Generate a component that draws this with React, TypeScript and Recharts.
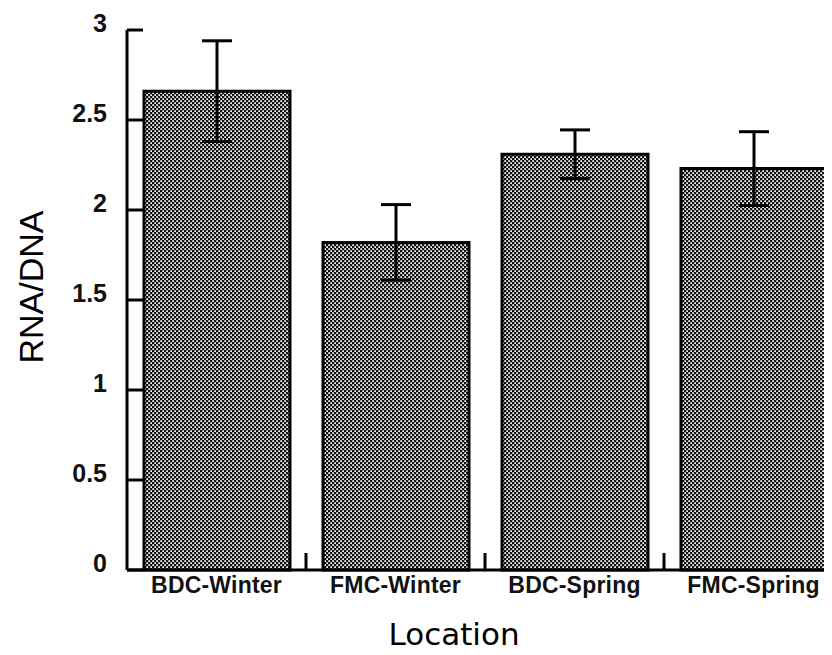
import React from "react";
import { BarChart, Bar, XAxis, YAxis, ErrorBar, Label } from "recharts";

const categories = ["BDC-Winter", "FMC-Winter", "BDC-Spring", "FMC-Spring"];
const means = [2.66, 1.82, 2.31, 2.23];
const errors = [0.28, 0.21, 0.135, 0.205];
const yTicks = [0, 0.5, 1, 1.5, 2, 2.5, 3];

const data = categories.map((c, i) => ({ name: c, value: means[i], err: errors[i] }));

const CHART_W = 850;
const CHART_H = 647;
const MARGIN = { top: 22, right: 15, bottom: 55, left: 9 };
const Y_W = 110;
const X_H = 30;
const PLOT_W = CHART_W - MARGIN.left - MARGIN.right - Y_W;
const BAND = PLOT_W / categories.length;

const YTick = (props: any) => {
  const { x, y, payload } = props;
  return (
    <g>
      <line x1={x} y1={y} x2={x + 16} y2={y} stroke="#000" strokeWidth={3} />
      <text
        x={x - 20}
        y={y + 2}
        textAnchor="end"
        fontFamily="Liberation Sans, Arial, sans-serif"
        fontWeight="bold"
        fontSize={25}
        fill="#111"
      >
        {String(payload.value)}
      </text>
    </g>
  );
};

const XTick = (props: any) => {
  const { x, y, payload, index } = props;
  return (
    <g>
      {index > 0 && (
        <line x1={x - BAND / 2} y1={y} x2={x - BAND / 2} y2={y - 17} stroke="#000" strokeWidth={3} />
      )}
      <text
        x={x}
        y={y + 23}
        textAnchor="middle"
        fontFamily="Liberation Sans, Arial, sans-serif"
        fontWeight="bold"
        fontSize={23}
        letterSpacing={0.2}
        fill="#111"
      >
        {payload.value}
      </text>
    </g>
  );
};

const YTitle = () => (
  <text
    x={35}
    y={279}
    transform="rotate(-90, 35, 279)"
    textAnchor="middle"
    fontFamily="Liberation Sans, Arial, sans-serif"
    fontSize={34}
    fill="#000"
  >
    RNA/DNA
  </text>
);

const XTitle = () => (
  <text
    x={446}
    y={637}
    textAnchor="middle"
    fontFamily="DejaVu Sans, Verdana, sans-serif"
    fontSize={31}
    fill="#000"
  >
    Location
  </text>
);

export default function App() {
  return (
    <div style={{ width: 824, height: CHART_H, overflow: "hidden", background: "#fff" }}>
      <BarChart width={CHART_W} height={CHART_H} data={data} margin={MARGIN}>
        <defs>
          <pattern id="dots" width={4} height={4} patternUnits="userSpaceOnUse">
            <rect x={0} y={0} width={4} height={4} fill="#111" />
            <rect x={0.3} y={0.3} width={1.7} height={1.7} fill="#fff" />
            <rect x={2.3} y={2.3} width={1.7} height={1.7} fill="#fff" />
          </pattern>
        </defs>
        <XAxis
          dataKey="name"
          height={X_H}
          tickSize={0}
          tickMargin={0}
          tickLine={false}
          axisLine={{ stroke: "#000", strokeWidth: 3 }}
          tick={<XTick />}
          interval={0}
        >
          <Label content={<XTitle />} />
        </XAxis>
        <YAxis
          width={Y_W}
          domain={[0, 3]}
          ticks={yTicks}
          tickSize={0}
          tickMargin={0}
          tickLine={false}
          axisLine={{ stroke: "#000", strokeWidth: 3 }}
          tick={<YTick />}
          interval={0}
        >
          <Label content={<YTitle />} />
        </YAxis>
        <Bar
          dataKey="value"
          fill="url(#dots)"
          stroke="#000"
          strokeWidth={3}
          barSize={146}
          isAnimationActive={false}
        >
          <ErrorBar dataKey="err" width={15} stroke="#000" strokeWidth={3} />
        </Bar>
      </BarChart>
    </div>
  );
}
